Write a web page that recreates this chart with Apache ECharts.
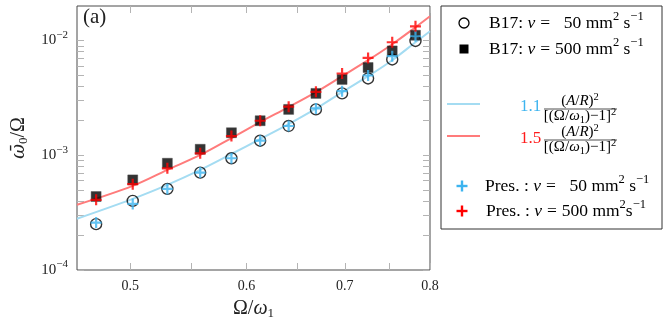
<!DOCTYPE html>
<html>
<head>
<meta charset="utf-8">
<title>omega0 / Omega</title>
<script src="https://cdn.jsdelivr.net/npm/echarts@6/dist/echarts.min.js"></script>
<style>
  html, body { margin: 0; padding: 0; background: #fff; }
  #chart { width: 665px; height: 327px; }
</style>
</head>
<body>
<div id="chart"></div>
<script>
// measured points: Omega/omega_1 and omega0/Omega
var omegaRatio = [0.474, 0.502, 0.530, 0.558, 0.586, 0.613, 0.641, 0.669, 0.697, 0.726, 0.754, 0.782];
var b17Nu50   = [2.51e-4, 4.00e-4, 5.09e-4, 7.06e-4, 9.42e-4, 1.34e-3, 1.80e-3, 2.51e-3, 3.46e-3, 4.67e-3, 6.84e-3, 9.92e-3];
var b17Nu500  = [4.37e-4, 6.10e-4, 8.52e-4, 1.128e-3, 1.572e-3, 2.00e-3, 2.51e-3, 3.46e-3, 4.58e-3, 5.82e-3, 8.12e-3, 1.112e-2];
var presNu50  = [2.59e-4, 3.77e-4, 5.09e-4, 7.06e-4, 9.42e-4, 1.34e-3, 1.80e-3, 2.56e-3, 3.62e-3, 4.96e-3, 7.30e-3, 1.09e-2];
var presNu500 = [4.09e-4, 5.60e-4, 7.70e-4, 1.04e-3, 1.47e-3, 2.00e-3, 2.65e-3, 3.57e-3, 5.16e-3, 7.06e-3, 9.66e-3, 1.33e-2];

// the two fit curves (1.1 and 1.5 prefactor)
var fitX  = [0.46, 0.502, 0.530, 0.558, 0.586, 0.613, 0.641, 0.669, 0.697, 0.726, 0.754, 0.782, 0.8];
var fit11 = [2.80e-4, 4.17e-4, 5.52e-4, 7.45e-4, 1.026e-3, 1.386e-3, 1.871e-3, 2.55e-3, 3.55e-3, 4.89e-3, 6.74e-3, 9.66e-3, 1.205e-2];
var fit15 = [3.70e-4, 5.41e-4, 7.45e-4, 1.006e-3, 1.414e-3, 1.948e-3, 2.63e-3, 3.55e-3, 4.89e-3, 6.74e-3, 9.29e-3, 1.305e-2, 1.627e-2];

// axis ticks and labels
var xLabels = [0.5, 0.6, 0.7, 0.8];
var xTicks  = [0.5, 0.55, 0.6, 0.65, 0.7, 0.75, 0.8];
var yLabels = [0.0001, 0.001, 0.01];
var yTicks  = [0.0001, 0.0002, 0.0003, 0.0004, 0.0005, 0.0006, 0.0007, 0.0008, 0.0009,
               0.001, 0.002, 0.003, 0.004, 0.005, 0.006, 0.007, 0.008, 0.009,
               0.01];

var serif = '"Liberation Serif", "DejaVu Serif", serif';
var plusPath = 'path://M4,0H6V4H10V6H6V10H4V6H0V4H4Z';
var ink = '#222';

function pairs(xs, ys) {
    var out = [];
    for (var i = 0; i < xs.length; i++) out.push([xs[i], ys[i]]);
    return out;
}

var myChart = echarts.init(document.getElementById('chart'), null, {renderer: 'canvas'});

function xAxisCfg(pos) {
    return {
        type: 'log', logBase: 10, min: 0.46, max: 0.8, position: pos,
        axisLine: {show: false},
        splitLine: {show: false},
        minorTick: {show: false},
        axisTick: {show: true, inside: true, length: 7, customValues: xTicks,
                   lineStyle: {color: '#b4b4b4', width: 1}},
        axisLabel: {show: pos === 'bottom', customValues: xLabels, margin: 9,
                    showMinLabel: true, showMaxLabel: true,
                    fontFamily: serif, fontSize: 14, color: ink,
                    formatter: function (v) { return v.toFixed(1); }},
        name: pos === 'bottom' ? '{n|Ω/}{w|ω}{sb|1}' : '',
        nameLocation: 'middle', nameGap: 27,
        nameTextStyle: {rich: {
            n: {fontFamily: serif, fontSize: 20, color: ink},
            w: {fontFamily: serif, fontSize: 20, fontStyle: 'italic', color: ink},
            sb: {fontFamily: serif, fontSize: 13, color: ink, padding: [10, 0, 0, 0]}
        }}
    };
}

function yAxisCfg(pos) {
    return {
        type: 'log', logBase: 10, min: 0.0001, max: 0.02, position: pos,
        axisLine: {show: false},
        splitLine: {show: false},
        minorTick: {show: false},
        axisTick: {show: true, inside: true, length: 7, customValues: yTicks,
                   lineStyle: {color: '#b4b4b4', width: 1}},
        axisLabel: {show: pos === 'left', customValues: yLabels, margin: 9,
                    showMinLabel: true, showMaxLabel: true,
                    formatter: function (v) {
                        var e = Math.round(Math.log(v) / Math.LN10);
                        return '{m|10}{s|\u2212' + (-e) + '}';
                    },
                    rich: {
                        m: {fontFamily: serif, fontSize: 15, color: ink},
                        s: {fontFamily: serif, fontSize: 11, color: ink, padding: [0, 0, 11, 0]}
                    }},
        name: pos === 'left' ? '{o|ω\u0304}{sb|0}{n|/Ω}' : '',
        nameLocation: 'middle', nameGap: 46, nameRotate: 90,
        nameTextStyle: {rich: {
            o: {fontFamily: '"DejaVu Serif", serif', fontSize: 18, fontStyle: 'italic', color: ink},
            n: {fontFamily: serif, fontSize: 20, color: ink},
            sb: {fontFamily: serif, fontSize: 13, color: ink, padding: [10, 0, 0, 0]}
        }}
    };
}

// legend box drawn by hand
var legendRich = {
    t: {fontFamily: serif, fontSize: 17.5, color: ink},
    i: {fontFamily: serif, fontSize: 17.5, fontStyle: 'italic', color: ink},
    e: {fontFamily: serif, fontSize: 17.5, color: ink, padding: [0, 5, 0, 5]},
    s: {fontFamily: serif, fontSize: 12.5, color: ink, padding: [0, 0, 12, 0]}
};
var fracRich = {
    p: {fontFamily: serif, fontSize: 15, color: ink},
    i: {fontFamily: serif, fontSize: 15, fontStyle: 'italic', color: ink},
    s: {fontFamily: serif, fontSize: 10.5, color: ink, padding: [0, 0, 8, 0]},
    b: {fontFamily: serif, fontSize: 10.5, color: ink, padding: [7, 0, 0, 0]}
};

function legendText(x, y, str) {
    return {type: 'text', x: x, y: y, z: 10,
            style: {text: str, rich: legendRich, verticalAlign: 'middle', align: 'left'}};
}
function plusIcon(cx, cy, color) {
    return [
        {type: 'rect', z: 10, shape: {x: cx - 5.5, y: cy - 1.2, width: 11, height: 2.4}, style: {fill: color}},
        {type: 'rect', z: 10, shape: {x: cx - 1.2, y: cy - 5.5, width: 2.4, height: 11}, style: {fill: color}}
    ];
}
function fraction(barY, coefY, coef, color) {
    return [
        {type: 'text', x: 520, y: coefY, z: 10,
         style: {text: coef, fontFamily: serif, fontSize: 17, fill: color, verticalAlign: 'middle'}},
        {type: 'text', x: 580, y: barY - 8, z: 10,
         style: {text: '{p|(}{i|A}{p|/}{i|R}{p|)}{s|2}', rich: fracRich, align: 'center', verticalAlign: 'middle'}},
        {type: 'line', z: 10, shape: {x1: 544, y1: barY, x2: 617, y2: barY},
         style: {stroke: ink, lineWidth: 0.8}},
        {type: 'text', x: 580, y: barY + 7.5, z: 10,
         style: {text: '{p|[(Ω/}{i|ω}{b|1}{p|)−1]}{s|2}', rich: fracRich, align: 'center', verticalAlign: 'middle'}}
    ];
}

var graphics = [
    {type: 'text', x: 83, y: 17, z: 10,
     style: {text: '(a)', fontFamily: serif, fontSize: 21, fill: ink, verticalAlign: 'middle'}},
    {type: 'rect', z: 9, shape: {x: 441, y: 6, width: 221, height: 223},
     style: {fill: '#fff', stroke: '#333', lineWidth: 1}},
    {type: 'circle', z: 10, shape: {cx: 464, cy: 23, r: 5}, style: {fill: 'none', stroke: '#000', lineWidth: 1.3}},
    legendText(489, 23, '{t|B17: }{i|ν}{e|=}{t|\u200750 mm}{s|2}{t| s}{s|\u22121}'),
    {type: 'rect', z: 10, shape: {x: 459.5, y: 44.5, width: 9, height: 9}, style: {fill: '#000'}},
    legendText(489, 49, '{t|B17: }{i|ν}{e|=}{t|500 mm}{s|2}{t| s}{s|\u22121}'),
    {type: 'line', z: 10, shape: {x1: 447, y1: 104, x2: 480, y2: 104}, style: {stroke: '#a4dcf2', lineWidth: 2}},
    {type: 'line', z: 10, shape: {x1: 447, y1: 136, x2: 480, y2: 136}, style: {stroke: '#ff7b7b', lineWidth: 2}},
    legendText(485, 186, '{t|Pres. : }{i|ν}{e|=}{t|\u200750 mm}{s|2}{t| s}{s|\u22121}'),
    legendText(486, 211, '{t|Pres. : }{i|ν}{e|=}{t|500 mm}{s|2}{t|s}{s|\u22121}')
].concat(plusIcon(462, 186, '#3db4ef'), plusIcon(462, 211, '#ff0000'),
         fraction(109, 107, '1.1', '#3db4ef'), fraction(140, 139, '1.5', '#ff1a1a'));

var option = {
    animation: false,
    grid: {left: 77, right: 235, top: 6, bottom: 57, show: true,
           borderColor: '#4a4a4a', borderWidth: 1, backgroundColor: 'transparent',
           outerBoundsMode: 'none'},
    xAxis: [xAxisCfg('bottom'), xAxisCfg('top')],
    yAxis: [yAxisCfg('left'), yAxisCfg('right')],
    series: [
        {name: 'fit 1.1', type: 'line', smooth: 0.35, showSymbol: false, symbol: 'none',
         data: pairs(fitX, fit11), lineStyle: {color: '#a4dcf2', width: 2}, z: 1},
        {name: 'fit 1.5', type: 'line', smooth: 0.35, showSymbol: false, symbol: 'none',
         data: pairs(fitX, fit15), lineStyle: {color: '#ff7b7b', width: 2}, z: 1},
        {name: 'B17 nu=50', type: 'scatter', symbol: 'circle', symbolSize: 11, z: 2,
         data: pairs(omegaRatio, b17Nu50),
         itemStyle: {color: 'rgba(255,255,255,0)', borderColor: '#000', borderWidth: 1.4}},
        {name: 'B17 nu=500', type: 'scatter', symbol: 'rect', symbolSize: 10, z: 3,
         data: pairs(omegaRatio, b17Nu500),
         itemStyle: {color: '#000', borderColor: '#444', borderWidth: 0.5}},
        {name: 'Pres. nu=50', type: 'scatter', symbol: plusPath, symbolSize: 11, z: 4,
         data: pairs(omegaRatio, presNu50), itemStyle: {color: '#3db4ef'}},
        {name: 'Pres. nu=500', type: 'scatter', symbol: plusPath, symbolSize: 11, z: 5,
         data: pairs(omegaRatio, presNu500), itemStyle: {color: '#ff0000'}}
    ],
    graphic: graphics
};

myChart.setOption(option);
</script>
</body>
</html>
